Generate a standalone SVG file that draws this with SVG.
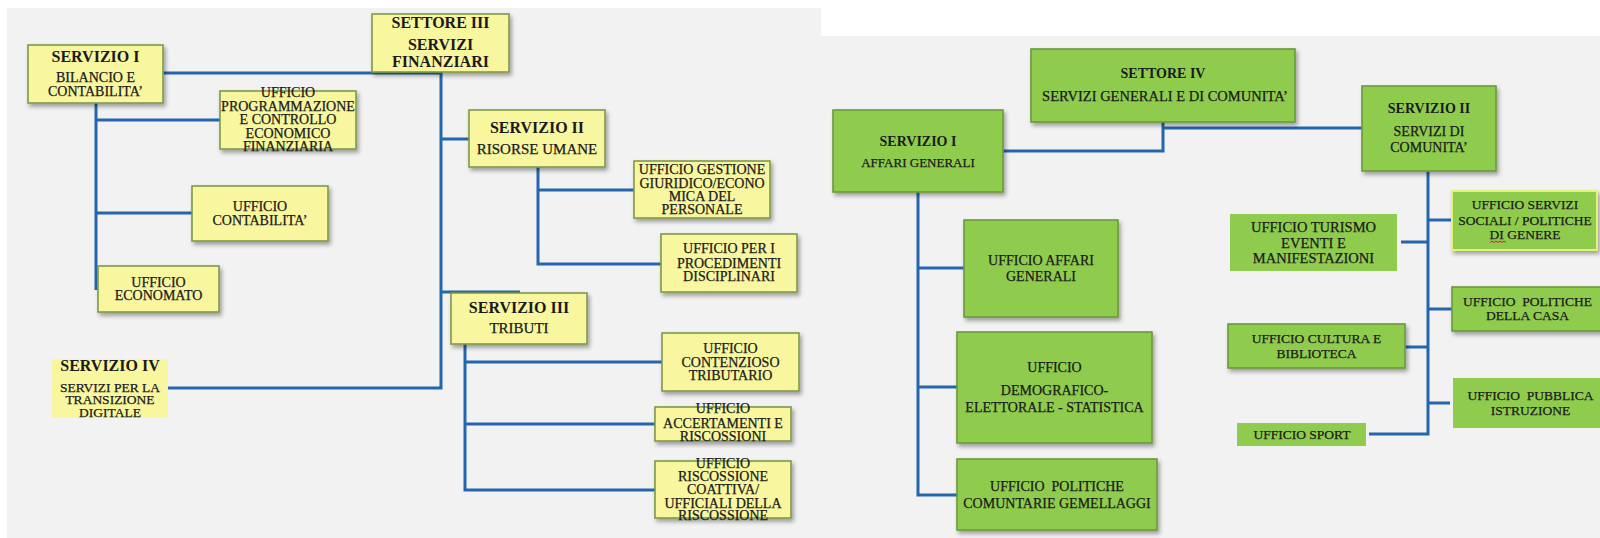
<svg xmlns="http://www.w3.org/2000/svg" width="1600" height="538" viewBox="0 0 1600 538">
<defs>
<filter id="sh" x="-10%" y="-10%" width="125%" height="130%">
<feDropShadow dx="2" dy="3" stdDeviation="2" flood-color="#000" flood-opacity="0.35"/>
</filter>
<style>
.bg{fill:#f2f2f2}
.y{fill:#f8f69e;stroke:#7d9a48;stroke-width:1.6;filter:url(#sh)}
.yn{fill:#f8f69e}
.g{fill:#8fcc4d;stroke:#6a9a3a;stroke-width:1.6;filter:url(#sh)}
.gl{fill:#8fcc4d;stroke:#e4f27a;stroke-width:2;filter:url(#sh)}
.gn{fill:#8fcc4d}
text{font-family:"Liberation Serif","Times New Roman",serif;fill:#1a1a1a;stroke:#1a1a1a;stroke-width:0.25;text-anchor:middle}
.b{font-weight:bold;stroke-width:0}
.s16{font-size:16px}
.s15{font-size:15px}
.s14{font-size:14px}
.s145{font-size:14.5px}
.s135{font-size:13.5px}
.s13{font-size:13px}
.ln{fill:none;stroke:#2466ae;stroke-width:3}
</style>
</defs>
<rect width="1600" height="538" fill="#ffffff"/>
<rect class="bg" x="7" y="8" width="814" height="530"/>
<rect class="bg" x="821" y="36" width="779" height="502" fill="#f4f4f4"/>

<g id="connectors">
<path class="ln" d="M163,73 H441 V388 H168"/>
<path class="ln" d="M441,292 H520"/>
<path class="ln" d="M441,139 H469"/>
<path class="ln" d="M96,103 V290"/>
<path class="ln" d="M96,120 H220"/>
<path class="ln" d="M96,213 H192"/>
<path class="ln" d="M538,167 V264 H661"/>
<path class="ln" d="M538,190 H634"/>
<path class="ln" d="M465,344 V490 H655"/>
<path class="ln" d="M465,362 H662"/>
<path class="ln" d="M465,424 H655"/>
<path class="ln" d="M1003,151 H1163 V122"/>
<path class="ln" d="M1163,128 H1362"/>
<path class="ln" d="M918,192 V495 H957"/>
<path class="ln" d="M918,268 H964"/>
<path class="ln" d="M918,387 H957"/>
<path class="ln" d="M1428,171 V434 H1369"/>
<path class="ln" d="M1428,220 H1452"/>
<path class="ln" d="M1401,242 H1428"/>
<path class="ln" d="M1428,309 H1452"/>
<path class="ln" d="M1405,347 H1428"/>
<path class="ln" d="M1428,403 H1450"/>
</g>

<g id="settore3">
<rect class="y" x="372" y="14" width="137" height="58"/>
<text class="b s16" x="440.5" y="28">SETTORE III</text>
<text class="b s16" x="440.5" y="50">SERVIZI</text>
<text class="b s16" x="440.5" y="67">FINANZIARI</text>
</g>
<g id="servizio1">
<rect class="y" x="28" y="45" width="135" height="58"/>
<text class="b s16" x="95.5" y="62">SERVIZIO I</text>
<text class="s14" x="95.5" y="82">BILANCIO E</text>
<text class="s14" x="95.5" y="96">CONTABILITA’</text>
</g>
<g id="programmazione">
<rect class="y" x="220" y="91" width="136" height="58"/>
<text class="s14" x="288" y="97">UFFICIO</text>
<text class="s14" x="288" y="111">PROGRAMMAZIONE</text>
<text class="s14" x="288" y="124">E CONTROLLO</text>
<text class="s14" x="288" y="137.5">ECONOMICO</text>
<text class="s14" x="288" y="150.5">FINANZIARIA</text>
</g>
<g id="contabilita">
<rect class="y" x="192" y="186" width="136" height="55"/>
<text class="s14" x="260" y="211">UFFICIO</text>
<text class="s14" x="260" y="225">CONTABILITA’</text>
</g>
<g id="economato">
<rect class="y" x="98" y="266" width="121" height="46"/>
<text class="s14" x="158.5" y="287">UFFICIO</text>
<text class="s14" x="158.5" y="300">ECONOMATO</text>
</g>
<g id="servizio4">
<rect class="yn" x="52" y="359" width="116" height="59"/>
<text class="b s16" x="110" y="371">SERVIZIO IV</text>
<text class="s135" x="110" y="391.5">SERVIZI PER LA</text>
<text class="s135" x="110" y="403.5">TRANSIZIONE</text>
<text class="s135" x="110" y="417">DIGITALE</text>
</g>
<g id="servizio2">
<rect class="y" x="469" y="110" width="136" height="57"/>
<text class="b s16" x="537" y="133">SERVIZIO II</text>
<text class="s15" x="537" y="154">RISORSE UMANE</text>
</g>
<g id="gestione">
<rect class="y" x="634" y="161" width="136" height="57"/>
<text class="s14" x="702" y="173.5">UFFICIO GESTIONE</text>
<text class="s14" x="702" y="187.5">GIURIDICO/ECONO</text>
<text class="s14" x="702" y="200.5">MICA DEL</text>
<text class="s14" x="702" y="213.5">PERSONALE</text>
</g>
<g id="disciplinari">
<rect class="y" x="661" y="234" width="136" height="58"/>
<text class="s14" x="729" y="252.5">UFFICIO PER I</text>
<text class="s14" x="729" y="267.5">PROCEDIMENTI</text>
<text class="s14" x="729" y="280.5">DISCIPLINARI</text>
</g>
<g id="servizio3">
<rect class="y" x="451" y="293" width="136" height="51"/>
<text class="b s16" x="519" y="313">SERVIZIO III</text>
<text class="s15" x="519" y="333">TRIBUTI</text>
</g>
<g id="contenzioso">
<rect class="y" x="662" y="333" width="137" height="58"/>
<text class="s14" x="730.5" y="352.5">UFFICIO</text>
<text class="s14" x="730.5" y="366.5">CONTENZIOSO</text>
<text class="s14" x="730.5" y="379.5">TRIBUTARIO</text>
</g>
<g id="accertamenti">
<rect class="y" x="655" y="407" width="136" height="34"/>
<text class="s14" x="723" y="412.5">UFFICIO</text>
<text class="s14" x="723" y="427.5">ACCERTAMENTI E</text>
<text class="s14" x="723" y="440.5">RISCOSSIONI</text>
</g>
<g id="riscossione">
<rect class="y" x="655" y="461" width="136" height="57"/>
<text class="s14" x="723" y="467.5">UFFICIO</text>
<text class="s14" x="723" y="480.5">RISCOSSIONE</text>
<text class="s14" x="723" y="493.5">COATTIVA/</text>
<text class="s14" x="723" y="507.5">UFFICIALI DELLA</text>
<text class="s14" x="723" y="519.5">RISCOSSIONE</text>
</g>

<g id="settore4">
<rect class="g" x="1031" y="49" width="264" height="73"/>
<text class="b s14" x="1163" y="78">SETTORE IV</text>
<text class="s145" x="1165" y="101">SERVIZI GENERALI E DI COMUNITA’</text>
</g>
<g id="g-servizio1">
<rect class="g" x="833" y="110" width="170" height="82"/>
<text class="b s14" x="918" y="146">SERVIZIO I</text>
<text class="s13" x="918" y="166.5">AFFARI GENERALI</text>
</g>
<g id="g-servizio2">
<rect class="g" x="1362" y="86" width="134" height="85"/>
<text class="b s14" x="1429" y="113">SERVIZIO II</text>
<text class="s14" x="1429" y="135.5">SERVIZI DI</text>
<text class="s14" x="1429" y="151.5">COMUNITA’</text>
</g>
<g id="affari-generali">
<rect class="g" x="964" y="220" width="154" height="97"/>
<text class="s14" x="1041" y="264.5">UFFICIO AFFARI</text>
<text class="s14" x="1041" y="280.5">GENERALI</text>
</g>
<g id="demografico">
<rect class="g" x="957" y="332" width="195" height="111"/>
<text class="s14" x="1054.5" y="371.5">UFFICIO</text>
<text class="s14" x="1054.5" y="394.5">DEMOGRAFICO-</text>
<text class="s14" x="1054.5" y="411.5">ELETTORALE - STATISTICA</text>
</g>
<g id="politiche-comunitarie">
<rect class="g" x="957" y="459" width="200" height="71"/>
<text class="s14" x="1057" y="490.5" xml:space="preserve">UFFICIO  POLITICHE</text>
<text class="s14" x="1057" y="507.5">COMUNTARIE GEMELLAGGI</text>
</g>
<g id="servizi-sociali">
<rect class="gl" x="1452" y="191" width="145" height="59"/>
<text class="s135" x="1525" y="208.5">UFFICIO SERVIZI</text>
<text class="s135" x="1525" y="224.5">SOCIALI / POLITICHE</text>
<text class="s135" x="1525" y="238.5">DI GENERE</text>
<path d="M1490,242.5 l2,-1.5 l2,1.5 l2,-1.5 l2,1.5 l2,-1.5 l2,1.5 l2,-1.5 l2,1.5" fill="none" stroke="#d02020" stroke-width="1"/>
</g>
<g id="turismo">
<rect class="gn" x="1230" y="214" width="167" height="57"/>
<text class="s145" x="1313.5" y="231.5">UFFICIO TURISMO</text>
<text class="s145" x="1313.5" y="247.5">EVENTI E</text>
<text class="s145" x="1313.5" y="262.5">MANIFESTAZIONI</text>
</g>
<g id="politiche-casa">
<rect class="g" x="1452" y="287" width="152" height="44"/>
<text class="s135" x="1527.5" y="305.5" xml:space="preserve">UFFICIO  POLITICHE</text>
<text class="s135" x="1527.5" y="319.5">DELLA CASA</text>
</g>
<g id="cultura">
<rect class="g" x="1228" y="324" width="177" height="44"/>
<text class="s135" x="1316.5" y="342.5">UFFICIO CULTURA E</text>
<text class="s135" x="1316.5" y="357.5">BIBLIOTECA</text>
</g>
<g id="istruzione">
<rect class="gn" x="1453" y="378" width="147" height="50"/>
<text class="s135" x="1530.5" y="399.5" xml:space="preserve">UFFICIO  PUBBLICA</text>
<text class="s135" x="1530.5" y="414.5">ISTRUZIONE</text>
</g>
<g id="sport">
<rect class="gn" x="1237" y="423" width="129" height="23"/>
<text class="s135" x="1302" y="438.5">UFFICIO SPORT</text>
</g>
</svg>
